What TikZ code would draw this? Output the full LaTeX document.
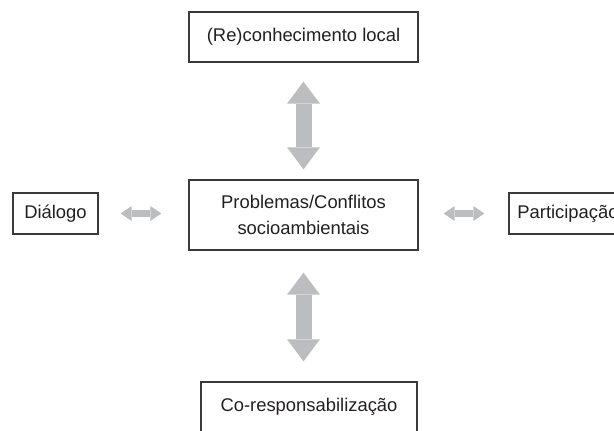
\documentclass[tikz,border=0pt]{standalone}
\usepackage{xcolor}
\usepackage{fontspec}
\setmainfont{Liberation Sans}
\usetikzlibrary{arrows.meta}
\definecolor{borda}{HTML}{3A3A3A}
\definecolor{texto}{HTML}{231F20}
\definecolor{seta}{HTML}{BCBDC0}

\begin{document}
\begin{tikzpicture}[x=1pt,y=-1pt,
  caixa/.style={draw=borda,line width=1.3pt,inner sep=0pt,text=texto,
    font=\fontsize{18.4}{26}\selectfont,align=center},
  setav/.style={seta,line width=16pt,
    {Triangle[length=22pt,width=33pt,line width=0pt]}-{Triangle[length=22pt,width=33pt,line width=0pt]}},
  setah/.style={seta,line width=7pt,
    {Triangle[length=11pt,width=15pt,line width=0pt]}-{Triangle[length=11pt,width=15pt,line width=0pt]}}]
\useasboundingbox (0,0) rectangle (614,431);
\clip (0,0) rectangle (614,431);
% caixas
\node[caixa,minimum width=229pt,minimum height=50pt] (reconh) at (303.5,37) {(Re)conhecimento local};
\node[caixa,minimum width=229pt,minimum height=70pt] (centro) at (303.5,215) {Problemas/Conflitos\\socioambientais};
\node[caixa,minimum width=216pt,minimum height=50pt] (coresp) at (309,407) {Co-responsabilização};
\node[caixa,minimum width=85pt,minimum height=41pt] (dialogo) at (55.5,213.5) {Diálogo};
\node[caixa,minimum width=118pt,minimum height=41pt] (partic) at (568,213.5) {Participação};
% setas
\draw[setav,shorten <=19pt,shorten >=10pt] (reconh.south) -- (centro.north);
\draw[setav,shorten <=22pt,shorten >=20pt] (centro.south) -- (centro.south |- coresp.north);
\draw[setah,shorten <=22pt,shorten >=27pt] (dialogo.east) -- (dialogo.east -| centro.west);
\draw[setah,shorten <=25pt,shorten >=24pt] (centro.east |- partic.west) -- (partic.west);
\end{tikzpicture}
\end{document}
